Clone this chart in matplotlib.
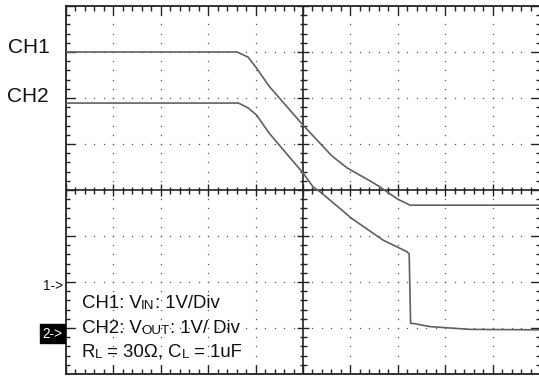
import numpy as np
import matplotlib
matplotlib.use("Agg")
import matplotlib.pyplot as plt
from matplotlib.collections import LineCollection

# ---- data (screen divisions: x 0..10, y 0..8 from bottom) ----
ch1_t = [0.0, 3.61, 3.84, 4.02, 4.29, 5.00, 5.61, 5.93, 6.41, 6.62, 6.77, 7.00, 7.26, 10.0]
ch1_v = [7.0, 7.0, 6.89, 6.65, 6.25, 5.41, 4.74, 4.48, 4.20, 4.07, 3.96, 3.80, 3.67, 3.67]

ch2_t = [0.0, 3.64, 3.85, 4.02, 4.29, 5.00, 5.21, 5.36, 5.57, 6.03, 6.69, 7.19, 7.24, 7.27, 7.32, 7.68, 8.52, 10.0]
ch2_v = [5.89, 5.89, 5.78, 5.63, 5.23, 4.37, 4.07, 3.96, 3.78, 3.38, 2.91, 2.66, 2.61, 1.10, 1.10, 1.03, 0.97, 0.96]

ch1_ground = 2.0
ch2_ground = 0.93

W, H = 539, 376
fig = plt.figure(figsize=(W / 100, H / 100), dpi=100)
plt.rcParams['font.family'] = ['Liberation Sans', 'DejaVu Sans']

ax = fig.add_axes([66 / W, 2 / H, 474 / W, 368 / H])
ax.set_xlim(0, 10)
ax.set_ylim(0, 8)
ax.set_xticks([])
ax.set_yticks([])
for s in ax.spines.values():
    s.set_color('#222222')
    s.set_linewidth(1.3)

dot_col = '#555555'
# dotted graticule
xs_minor = np.arange(0, 10.001, 0.2)
ys_minor = np.arange(0, 8.001, 0.2)
for k in range(1, 10):
    if k == 5:
        continue
    ax.plot(np.full(len(ys_minor), k), ys_minor, ls='none', marker='s', ms=0.9,
            mew=0, color=dot_col, zorder=1)
for k in range(1, 8):
    if k == 4:
        continue
    ax.plot(xs_minor, np.full(len(xs_minor), k), ls='none', marker='s', ms=0.9,
            mew=0, color=dot_col, zorder=1)

# centre cross
ax.axvline(5, color='#222222', lw=1.2, zorder=2)
ax.axhline(4, color='#222222', lw=1.2, zorder=2)

segs = []
px_x = 10 / 474.0
px_y = 8 / 368.0
for x in xs_minor:
    major = abs(x - round(x)) < 1e-6
    lt = (9 if major else 5) * px_y
    segs.append([(x, 8), (x, 8 - lt)])
    segs.append([(x, 0), (x, lt)])
    lc = (6 if major else 3.5) * px_y
    segs.append([(x, 4 - lc), (x, 4 + lc)])
for y in ys_minor:
    major = abs(y - round(y)) < 1e-6
    ll = (9 if major else 4) * px_x
    segs.append([(0, y), (ll, y)])
    segs.append([(10, y), (10 - ll, y)])
    lc = (6 if major else 3.5) * px_x
    segs.append([(5 - lc, y), (5 + lc, y)])
ax.add_collection(LineCollection(segs, colors='#222222', linewidths=1.0, zorder=2))

# traces
ax.plot(ch1_t, ch1_v, color='#606060', lw=1.2, zorder=3)
ax.plot(ch2_t, ch2_v, color='#606060', lw=1.2, zorder=3)


def ftext(x, y, s, **kw):
    return fig.text(x / W, 1 - y / H, s, **kw)


ftext(8, 53.3, 'CH1', fontsize=15, va='baseline', ha='left', color='#111111')
ftext(7, 102.3, 'CH2', fontsize=15, va='baseline', ha='left', color='#111111')
ftext(43, 289.5, '1->', fontsize=9.8, va='baseline', ha='left', color='#111111')
ftext(42.5, 337.5, '2->', fontsize=9.8, va='baseline', ha='left', color='white',
      bbox=dict(boxstyle='square,pad=0.15', fc='black', ec='black'))


def chain(x, y, parts):
    prev = None
    for s, big in parts:
        fs = 13.4 if big else 9.6
        if prev is None:
            prev = ftext(x, y, s, fontsize=fs, va='baseline', ha='left', color='#111111')
        else:
            prev = fig.add_artist(matplotlib.text.Annotation(
                s, xy=(1, 0), xycoords=prev, va='bottom', ha='left',
                fontsize=fs, color='#111111'))
    return prev


chain(81.5, 308.3, [('CH1: V', True), ('IN', False), (': 1V/Div', True)])
chain(81.5, 332.7, [('CH2: V', True), ('OUT', False), (': 1V/ Div', True)])
chain(81.5, 356.7, [('R', True), ('L', False), (' = 30Ω, C', True), ('L', False), (' = 1uF', True)])

fig.savefig('out.png', dpi=100)
